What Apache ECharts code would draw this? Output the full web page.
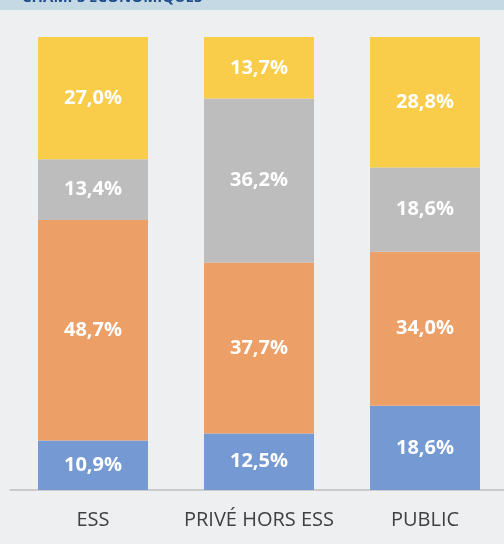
<!DOCTYPE html>
<html>
<head>
<meta charset="utf-8">
<script src="https://cdn.jsdelivr.net/npm/echarts@6/dist/echarts.min.js"></script>
<style>
  html, body { margin: 0; padding: 0; background: #eeeff1; overflow: hidden; }
  #chart { width: 508px; height: 544px; }
</style>
</head>
<body>
<div id="chart"></div>
<script>
// Categories and series (percent shares)
const categories = ['ESS', 'PRIVÉ HORS ESS', 'PUBLIC'];
const blueValues = [10.9, 12.5, 18.6];
const orangeValues = [48.7, 37.7, 34.0];
const grayValues = [13.4, 36.2, 18.6];
const yellowValues = [27.0, 13.7, 28.8];

const chart = echarts.init(document.getElementById('chart'));

function frLabel(p) {
  return p.value.toFixed(1).replace('.', ',') + '%';
}

function makeSeries(name, values, color) {
  return {
    name: name,
    type: 'bar',
    stack: 'total',
    barWidth: 110,
    data: values,
    itemStyle: { color: color },
    label: {
      show: true,
      position: 'inside',
      color: '#ffffff',
      fontFamily: 'Open Sans',
      fontWeight: 'bold',
      fontSize: 20,
      formatter: frLabel
    }
  };
}

const option = {
  backgroundColor: '#eeeff1',
  animation: false,
  graphic: [
    { type: 'rect', shape: { x: 0, y: 0, width: 508, height: 10 }, style: { fill: '#c5d9e5' } },
    {
      type: 'text', left: 22, top: -10,
      style: { text: 'CHAMPS ÉCONOMIQUES', fill: '#1f4e8c', font: 'bold 15px "Open Sans"' }
    }
  ],
  grid: { left: 10, right: 0, top: 37, bottom: 54 },
  xAxis: {
    type: 'category',
    data: categories,
    axisLine: { lineStyle: { color: '#c0c0c0', width: 1.5 } },
    axisTick: { show: false },
    axisLabel: { color: '#404040', fontFamily: 'Open Sans', fontSize: 20, margin: 20, interval: 0 }
  },
  yAxis: { type: 'value', min: 0, max: 100, show: false },
  series: [
    makeSeries('Bleu', blueValues, '#7599d3'),
    makeSeries('Orange', orangeValues, '#eca067'),
    makeSeries('Gris', grayValues, '#bdbdbd'),
    makeSeries('Jaune', yellowValues, '#f9cd4a')
  ]
};

chart.setOption(option);
</script>
</body>
</html>
